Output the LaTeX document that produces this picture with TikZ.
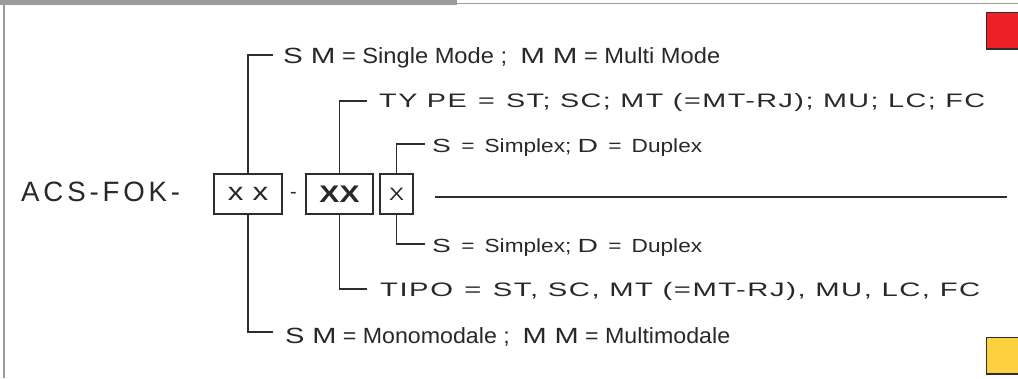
\documentclass[tikz,border=0pt]{standalone}
\usepackage{fontspec}
\usepackage{graphicx}
\setmainfont{Liberation Sans}
\newfontfamily\nf{Liberation Sans}
\newfontfamily\wf[FakeStretch=1.25]{Liberation Sans}
\newfontfamily\ef[FakeStretch=1.15,LetterSpace=6]{Liberation Sans}
\newfontfamily\af[LetterSpace=14]{Liberation Sans}
\newcommand\fitto[2]{\resizebox{#1}{\height}{#2}}
\newcommand\gap{\hspace{0.45em}}
\definecolor{txt}{RGB}{40,40,40}
\definecolor{ln}{RGB}{45,45,45}
\definecolor{frame}{RGB}{155,155,155}
\definecolor{redsq}{RGB}{238,32,39}
\definecolor{yelsq}{RGB}{253,208,64}
\tikzset{
  codebox/.style={draw=ln, line width=1.3pt, inner sep=0pt, text=txt},
  conn/.style={draw=ln, line width=1.3pt},
  lbl/.style={anchor=base west, inner sep=0pt, text=txt},
}
\begin{document}
\begin{tikzpicture}[x=1pt,y=-1pt]
\useasboundingbox (0,0) rectangle (1018,378);
% frame
\fill[frame] (0,0) rectangle (457,4.5);
\draw[frame, line width=1.5pt] (457,3.5) -- (1018,3.5);
\draw[frame, line width=2pt] (3.5,0) -- (3.5,378);
% colour squares
\draw[fill=redsq, draw=ln, line width=1.3pt] (986.5,12.5) rectangle (1020,49);
\draw[fill=yelsq, draw=ln, line width=1.3pt] (986.5,337.5) rectangle (1020,374);
% main code
\node[lbl] (acs) at (21,201) {\fitto{159pt}{\fontsize{28pt}{30pt}\selectfont\af ACS-FOK-}};
\node[codebox, minimum width=68pt, minimum height=40pt] (b1) at (248,194)
  {\fontsize{25pt}{26pt}\selectfont\wf x\hspace{9pt}x};
\node[inner sep=0pt, text=txt] (dash) at (293.5,195) {\fontsize{20pt}{22pt}\selectfont -};
\node[codebox, minimum width=67pt, minimum height=40pt] (b2) at (339.5,194)
  {\fontsize{24pt}{25pt}\selectfont\bfseries\wf XX};
\node[codebox, minimum width=33pt, minimum height=40pt] (b3) at (396.5,194)
  {\fontsize{18pt}{19pt}\selectfont\wf X};
% labels
\node[lbl] (sm1) at (283,63) {\fitto{437pt}{\fontsize{22pt}{24pt}\selectfont{\wf S\,\,M} {\nf = Single Mode ; } {\wf M\,\,M} {\nf = Multi Mode}}};
\node[lbl] (type) at (379,107) {\fitto{606pt}{\fontsize{19.5pt}{22pt}\selectfont{\ef TY PE}\gap{\ef =}\gap{\ef ST; SC; MT (=MT-RJ); MU; LC; FC}}};
\node[lbl] (sx1) at (432,152) {\fitto{270pt}{\fontsize{19pt}{21pt}\selectfont{\wf S}\gap{\nf =}\gap{\nf Simplex;} {\wf D}\gap{\nf =}\gap{\nf Duplex}}};
\node[lbl] (sx2) at (432,252) {\fitto{270pt}{\fontsize{19pt}{21pt}\selectfont{\wf S}\gap{\nf =}\gap{\nf Simplex;} {\wf D}\gap{\nf =}\gap{\nf Duplex}}};
\node[lbl] (tipo) at (380,296) {\fitto{600pt}{\fontsize{19.5pt}{22pt}\selectfont{\ef TIPO}\gap{\ef =}\gap{\ef ST, SC, MT (=MT-RJ), MU, LC, FC}}};
\node[lbl] (sm2) at (285,343) {\fitto{445pt}{\fontsize{22pt}{24pt}\selectfont{\wf S\,\,M} {\nf = Monomodale ; } {\wf M\,\,M} {\nf = Multimodale}}};
% connector end points
\coordinate (e1) at (273,55);
\coordinate (e2) at (367,101);
\coordinate (e3) at (425,144);
\coordinate (e4) at (425,244);
\coordinate (e5) at (367,289);
\coordinate (e6) at (273,332);
\coordinate (ls) at (435,197);
\coordinate (le) at (1007,197);
% connectors
\draw[conn] (b1.north) |- (e1);
\draw[conn] (b2.north) |- (e2);
\draw[conn] (b3.north) |- (e3);
\draw[conn] (b3.south) |- (e4);
\draw[conn] (b2.south) |- (e5);
\draw[conn] (b1.south) |- (e6);
\draw[conn] (ls) -- (le);
\end{tikzpicture}
\end{document}
